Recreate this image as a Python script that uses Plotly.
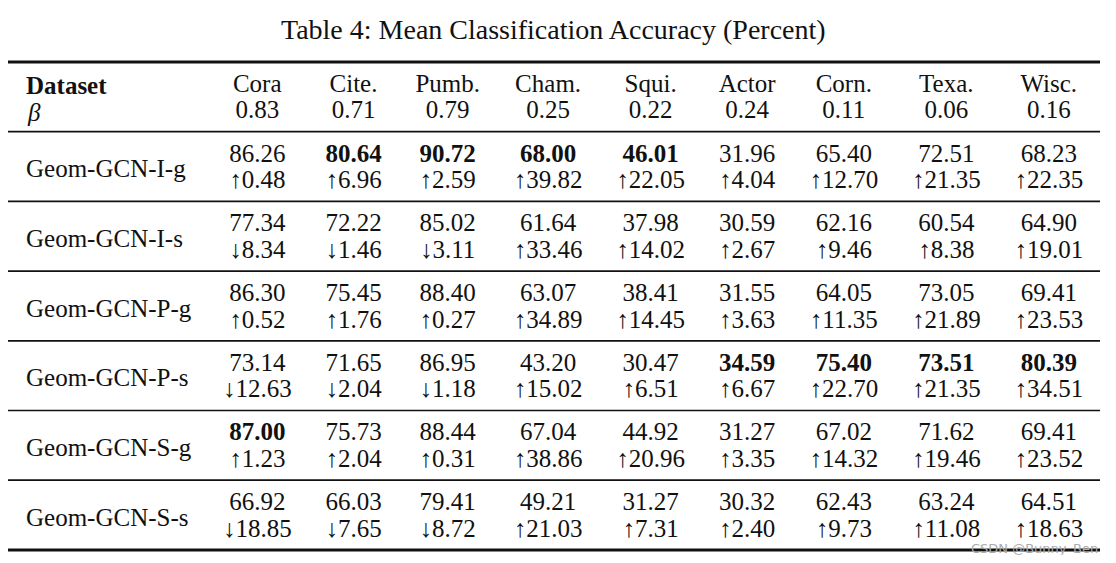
import plotly.graph_objects as go

# --- dados da tabela ---
title = "Table 4: Mean Classification Accuracy (Percent)"
datasets = ["Cora", "Cite.", "Pumb.", "Cham.", "Squi.", "Actor", "Corn.", "Texa.", "Wisc."]
beta = ["0.83", "0.71", "0.79", "0.25", "0.22", "0.24", "0.11", "0.06", "0.16"]
methods = ["Geom-GCN-I-g", "Geom-GCN-I-s", "Geom-GCN-P-g",
           "Geom-GCN-P-s", "Geom-GCN-S-g", "Geom-GCN-S-s"]

acc_I_g = [86.26, 80.64, 90.72, 68.00, 46.01, 31.96, 65.40, 72.51, 68.23]
acc_I_s = [77.34, 72.22, 85.02, 61.64, 37.98, 30.59, 62.16, 60.54, 64.90]
acc_P_g = [86.30, 75.45, 88.40, 63.07, 38.41, 31.55, 64.05, 73.05, 69.41]
acc_P_s = [73.14, 71.65, 86.95, 43.20, 30.47, 34.59, 75.40, 73.51, 80.39]
acc_S_g = [87.00, 75.73, 88.44, 67.04, 44.92, 31.27, 67.02, 71.62, 69.41]
acc_S_s = [66.92, 66.03, 79.41, 49.21, 31.27, 30.32, 62.43, 63.24, 64.51]

diff_I_g = [0.48, 6.96, 2.59, 39.82, 22.05, 4.04, 12.70, 21.35, 22.35]
diff_I_s = [-8.34, -1.46, -3.11, 33.46, 14.02, 2.67, 9.46, 8.38, 19.01]
diff_P_g = [0.52, 1.76, 0.27, 34.89, 14.45, 3.63, 11.35, 21.89, 23.53]
diff_P_s = [-12.63, -2.04, -1.18, 15.02, 6.51, 6.67, 22.70, 21.35, 34.51]
diff_S_g = [1.23, 2.04, 0.31, 38.86, 20.96, 3.35, 14.32, 19.46, 23.52]
diff_S_s = [-18.85, -7.65, -8.72, 21.03, 7.31, 2.40, 9.73, 11.08, 18.63]

acc = [acc_I_g, acc_I_s, acc_P_g, acc_P_s, acc_S_g, acc_S_s]
diff = [diff_I_g, diff_I_s, diff_P_g, diff_P_s, diff_S_g, diff_S_s]

# --- estilo ---
FONT = "Liberation Serif"
SIZE = 25          # px por em
TITLE_SIZE = 28
INK = "#111111"
LINE_OFF = 0.19    # meia distância entre as duas linhas de um grupo (unidades de linha)
TEXT_DY = 0.03     # compensação vertical do texto
TABSEP = 0.675     # \tabcolsep em em

# larguras aproximadas dos caracteres (Times, em)
W = {".": 0.25, "-": 0.333, "C": 0.667, "o": 0.5, "r": 0.333, "a": 0.444, "i": 0.278,
     "t": 0.278, "e": 0.444, "P": 0.556, "u": 0.5, "m": 0.778, "b": 0.5, "h": 0.5,
     "S": 0.556, "q": 0.5, "A": 0.722, "c": 0.444, "n": 0.5, "T": 0.611, "x": 0.5,
     "W": 0.944, "s": 0.389, "G": 0.722, "N": 0.722, "I": 0.333, "g": 0.5}


def largura(s):
    return sum(W.get(c, 0.5) for c in s)


# textos das células
tops = []
bots = []
best = [max(row[j] for row in acc) for j in range(len(datasets))]
for a_row, d_row in zip(acc, diff):
    tops.append([f"{v:.2f}" for v in a_row])
    bots.append([("↑" if d >= 0 else "↓") + f"{abs(d):.2f}" for d in d_row])

# posição das colunas a partir da largura do conteúdo (como no LaTeX)
name_w = max(largura(m) for m in methods)
cum = 2 * TABSEP + name_w
col_x = []
for j in range(len(datasets)):
    cells = [datasets[j], beta[j]] + [t[j] for t in tops] + [b[j] for b in bots]
    w = max(largura(c) for c in cells)
    col_x.append(cum + TABSEP + w / 2)
    cum += 2 * TABSEP + w
table_w = cum

fig = go.Figure()


def linha(y, textos):
    fig.add_trace(go.Scatter(x=col_x, y=[y] * len(col_x), text=textos, mode="text",
                             textfont=dict(family=FONT, size=SIZE, color=INK), hoverinfo="skip"))


# cabeçalho
linha(-LINE_OFF + TEXT_DY, datasets)
linha(LINE_OFF + TEXT_DY, beta)
fig.add_annotation(x=TABSEP, y=-LINE_OFF + TEXT_DY, text="<b>Dataset</b>", xanchor="left",
                   yanchor="middle", showarrow=False, font=dict(family=FONT, size=SIZE, color=INK))
fig.add_annotation(x=TABSEP + 0.05, y=LINE_OFF + TEXT_DY, text="<i>β</i>", xanchor="left",
                   yanchor="middle", showarrow=False, font=dict(family=FONT, size=SIZE, color=INK))

# corpo
for i in range(len(methods)):
    g = i + 1
    top = [f"<b>{t}</b>" if acc[i][j] == best[j] else t for j, t in enumerate(tops[i])]
    linha(g - LINE_OFF + TEXT_DY, top)
    linha(g + LINE_OFF + TEXT_DY, bots[i])
    fig.add_annotation(x=TABSEP, y=g + TEXT_DY, text=methods[i], xanchor="left", yanchor="middle",
                       showarrow=False, font=dict(family=FONT, size=SIZE, color=INK))

# título
fig.add_annotation(x=table_w / 2, y=-0.97, text=title, showarrow=False,
                   font=dict(family=FONT, size=TITLE_SIZE, color=INK))

# regras horizontais (booktabs)
n = len(methods)
for k in range(n + 2):
    yk = k - 0.5
    w = 3 if k in (0, n + 1) else 1.7
    fig.add_shape(type="line", xref="x", yref="y", x0=0, x1=table_w,
                  y0=yk, y1=yk, line=dict(color=INK, width=w))

# marca d'água
fig.add_annotation(x=table_w, y=6.48, xanchor="right", yanchor="middle",
                   text="CSDN @Bunny_Ben", showarrow=False,
                   font=dict(family="DejaVu Sans", size=13, color="#ababab"))

# a página tem 8 px de margem no body: figura 1100x547
fig.update_layout(
    width=1100, height=547,
    margin=dict(l=0, r=0, t=0, b=0),
    paper_bgcolor="white", plot_bgcolor="white",
    showlegend=False,
    xaxis=dict(range=[0.04, 44.04], visible=False, fixedrange=True),
    yaxis=dict(range=[6.5732, -1.2748], visible=False, fixedrange=True),
)

fig.write_html("out.html")
